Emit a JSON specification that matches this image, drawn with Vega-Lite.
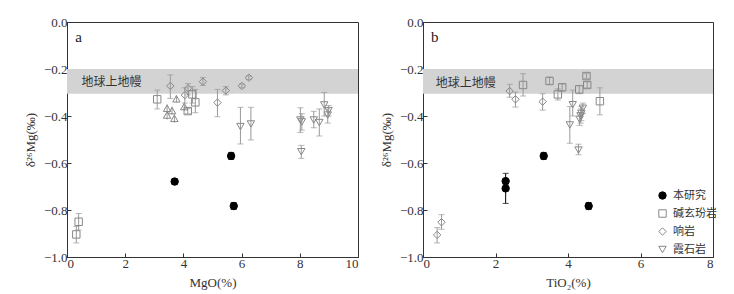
{
  "$schema": "https://vega.github.io/schema/vega-lite/v6.json",
  "padding": {"left": 23, "top": 15, "right": 5, "bottom": 5},
  "background": "white",
  "datasets": {
    "band": [{"lo": -0.305, "hi": -0.2}],
    "labA": [{"x": 0.5, "y": -0.254, "s": "地球上地幔", "p": "a", "px": 0.28, "py": -0.065}],
    "labB": [{"x": 0.35, "y": -0.26, "s": "地球上地幔", "p": "b", "px": 0.22, "py": -0.065}],
    "a": [
      {"x": 3.70, "y": -0.679, "lo": -0.691, "hi": -0.667, "t": "本研究"},
      {"x": 5.64, "y": -0.570, "lo": -0.585, "hi": -0.555, "t": "本研究"},
      {"x": 5.73, "y": -0.783, "lo": -0.798, "hi": -0.768, "t": "本研究"},
      {"x": 0.40, "y": -0.850, "lo": -0.885, "hi": -0.815, "t": "碱玄玢岩"},
      {"x": 0.32, "y": -0.904, "lo": -0.940, "hi": -0.870, "t": "碱玄玢岩"},
      {"x": 3.10, "y": -0.329, "lo": -0.370, "hi": -0.290, "t": "碱玄玢岩"},
      {"x": 4.41, "y": -0.342, "lo": -0.386, "hi": -0.287, "t": "碱玄玢岩"},
      {"x": 4.15, "y": -0.379, "lo": -0.390, "hi": -0.368, "t": "碱玄玢岩"},
      {"x": 4.31, "y": -0.308, "lo": -0.345, "hi": -0.275, "t": "碱玄玢岩"},
      {"x": 3.55, "y": -0.272, "lo": -0.325, "hi": -0.225, "t": "响岩"},
      {"x": 4.05, "y": -0.311, "lo": -0.345, "hi": -0.280, "t": "响岩"},
      {"x": 4.16, "y": -0.282, "lo": -0.310, "hi": -0.262, "t": "响岩"},
      {"x": 4.67, "y": -0.254, "lo": -0.270, "hi": -0.236, "t": "响岩"},
      {"x": 5.17, "y": -0.343, "lo": -0.403, "hi": -0.287, "t": "响岩"},
      {"x": 5.46, "y": -0.292, "lo": -0.310, "hi": -0.275, "t": "响岩"},
      {"x": 6.01, "y": -0.272, "lo": -0.280, "hi": -0.264, "t": "响岩"},
      {"x": 6.25, "y": -0.237, "lo": -0.245, "hi": -0.229, "t": "响岩"},
      {"x": 5.96, "y": -0.445, "lo": -0.519, "hi": -0.363, "t": "霞石岩"},
      {"x": 6.32, "y": -0.434, "lo": -0.502, "hi": -0.363, "t": "霞石岩"},
      {"x": 8.02, "y": -0.417, "lo": -0.470, "hi": -0.365, "t": "霞石岩"},
      {"x": 8.07, "y": -0.425, "lo": -0.460, "hi": -0.390, "t": "霞石岩"},
      {"x": 8.05, "y": -0.552, "lo": -0.580, "hi": -0.525, "t": "霞石岩"},
      {"x": 8.48, "y": -0.417, "lo": -0.450, "hi": -0.380, "t": "霞石岩"},
      {"x": 8.67, "y": -0.428, "lo": -0.485, "hi": -0.370, "t": "霞石岩"},
      {"x": 8.84, "y": -0.353, "lo": -0.400, "hi": -0.300, "t": "霞石岩"},
      {"x": 8.99, "y": -0.377, "lo": -0.400, "hi": -0.355, "t": "霞石岩"},
      {"x": 8.96, "y": -0.396, "lo": -0.430, "hi": -0.370, "t": "霞石岩"}
    ],
    "aup": [
      {"x": 3.44, "y": -0.367, "lo": -0.385, "hi": -0.350},
      {"x": 3.61, "y": -0.377, "lo": -0.395, "hi": -0.360},
      {"x": 3.44, "y": -0.396, "lo": -0.415, "hi": -0.378},
      {"x": 3.69, "y": -0.410, "lo": -0.428, "hi": -0.392},
      {"x": 3.76, "y": -0.327, "lo": -0.342, "hi": -0.312},
      {"x": 4.03, "y": -0.360, "lo": -0.378, "hi": -0.342}
    ],
    "b": [
      {"x": 2.28, "y": -0.677, "lo": -0.705, "hi": -0.644, "t": "本研究"},
      {"x": 2.28, "y": -0.708, "lo": -0.772, "hi": -0.690, "t": "本研究"},
      {"x": 3.33, "y": -0.570, "lo": -0.585, "hi": -0.555, "t": "本研究"},
      {"x": 4.57, "y": -0.783, "lo": -0.798, "hi": -0.768, "t": "本研究"},
      {"x": 2.76, "y": -0.268, "lo": -0.315, "hi": -0.220, "t": "碱玄玢岩"},
      {"x": 3.49, "y": -0.251, "lo": -0.265, "hi": -0.235, "t": "碱玄玢岩"},
      {"x": 3.84, "y": -0.278, "lo": -0.292, "hi": -0.264, "t": "碱玄玢岩"},
      {"x": 3.72, "y": -0.308, "lo": -0.332, "hi": -0.284, "t": "碱玄玢岩"},
      {"x": 4.31, "y": -0.287, "lo": -0.305, "hi": -0.270, "t": "碱玄玢岩"},
      {"x": 4.51, "y": -0.230, "lo": -0.240, "hi": -0.220, "t": "碱玄玢岩"},
      {"x": 4.53, "y": -0.268, "lo": -0.280, "hi": -0.255, "t": "碱玄玢岩"},
      {"x": 4.88, "y": -0.337, "lo": -0.395, "hi": -0.280, "t": "碱玄玢岩"},
      {"x": 0.51, "y": -0.852, "lo": -0.882, "hi": -0.820, "t": "响岩"},
      {"x": 0.39, "y": -0.906, "lo": -0.940, "hi": -0.875, "t": "响岩"},
      {"x": 2.39, "y": -0.294, "lo": -0.320, "hi": -0.265, "t": "响岩"},
      {"x": 2.55, "y": -0.329, "lo": -0.362, "hi": -0.298, "t": "响岩"},
      {"x": 3.30, "y": -0.339, "lo": -0.375, "hi": -0.305, "t": "响岩"},
      {"x": 4.13, "y": -0.352, "lo": -0.400, "hi": -0.290, "t": "霞石岩"},
      {"x": 4.05, "y": -0.438, "lo": -0.516, "hi": -0.360, "t": "霞石岩"},
      {"x": 4.41, "y": -0.367, "lo": -0.390, "hi": -0.345, "t": "霞石岩"},
      {"x": 4.37, "y": -0.389, "lo": -0.420, "hi": -0.360, "t": "霞石岩"},
      {"x": 4.32, "y": -0.414, "lo": -0.440, "hi": -0.385, "t": "霞石岩"},
      {"x": 4.35, "y": -0.400, "lo": -0.430, "hi": -0.370, "t": "霞石岩"},
      {"x": 4.29, "y": -0.545, "lo": -0.565, "hi": -0.520, "t": "霞石岩"}
    ]
  },
  "spacing": 20,
  "hconcat": [
    {
      "width": 291,
      "height": 235,
      "layer": [
        {
          "data": {"name": "band"},
          "mark": {"type": "rect", "color": "#d3d3d3"},
          "encoding": {
            "y": {"field": "hi", "type": "quantitative", "scale": {"domain": [-1, 0], "nice": false, "zero": false},
              "axis": {"title": "δ²⁶Mg(‰)", "values": [-1, -0.8, -0.6, -0.4, -0.2, 0], "format": ".1f"}},
            "y2": {"field": "lo"}
          }
        },
        {
          "data": {"name": "labA"},
          "mark": {"type": "text", "align": "left", "baseline": "middle", "font": "Noto Sans CJK SC", "fontSize": 12, "color": "#333"},
          "encoding": {
            "x": {"field": "x", "type": "quantitative"},
            "y": {"field": "y", "type": "quantitative"},
            "text": {"field": "s"}
          }
        },
        {
          "data": {"name": "labA"},
          "mark": {"type": "text", "align": "left", "baseline": "middle", "font": "Liberation Serif", "fontSize": 15, "color": "#222"},
          "encoding": {
            "x": {"field": "px", "type": "quantitative"},
            "y": {"field": "py", "type": "quantitative"},
            "text": {"field": "p"}
          }
        },
        {
          "data": {"name": "a"},
          "mark": {"type": "rule", "strokeWidth": 1},
          "encoding": {
            "x": {"field": "x", "type": "quantitative", "scale": {"domain": [0, 10], "nice": false},
              "axis": {"title": "MgO(%)", "values": [0, 2, 4, 6, 8, 10], "format": "d"}},
            "y": {"field": "lo", "type": "quantitative"},
            "y2": {"field": "hi"},
            "color": {"condition": {"test": "datum.t === '本研究'", "value": "#000000"}, "value": "#999999"}
          }
        },
        {
          "data": {"name": "a"},
          "mark": {"type": "tick", "orient": "horizontal", "size": 6, "thickness": 1},
          "encoding": {
            "x": {"field": "x", "type": "quantitative"},
            "y": {"field": "lo", "type": "quantitative"},
            "color": {"condition": {"test": "datum.t === '本研究'", "value": "#000000"}, "value": "#999999"}
          }
        },
        {
          "data": {"name": "a"},
          "mark": {"type": "tick", "orient": "horizontal", "size": 6, "thickness": 1},
          "encoding": {
            "x": {"field": "x", "type": "quantitative"},
            "y": {"field": "hi", "type": "quantitative"},
            "color": {"condition": {"test": "datum.t === '本研究'", "value": "#000000"}, "value": "#999999"}
          }
        },
        {
          "data": {"name": "aup"},
          "mark": {"type": "rule", "strokeWidth": 1, "color": "#999999"},
          "encoding": {
            "x": {"field": "x", "type": "quantitative"},
            "y": {"field": "lo", "type": "quantitative"},
            "y2": {"field": "hi"}
          }
        },
        {
          "data": {"name": "aup"},
          "mark": {"type": "point", "shape": "triangle-up", "filled": false, "size": 55, "strokeWidth": 1, "color": "#888888", "opacity": 1},
          "encoding": {
            "x": {"field": "x", "type": "quantitative"},
            "y": {"field": "y", "type": "quantitative"}
          }
        },
        {
          "data": {"name": "a"},
          "mark": {"type": "point", "filled": true, "size": 55, "strokeWidth": 1, "opacity": 1},
          "encoding": {
            "x": {"field": "x", "type": "quantitative"},
            "y": {"field": "y", "type": "quantitative"},
            "shape": {"field": "t", "type": "nominal", "scale": {"domain": ["本研究", "碱玄玢岩", "响岩", "霞石岩"], "range": ["circle", "square", "diamond", "triangle-down"]}, "legend": null},
            "fill": {"field": "t", "type": "nominal", "scale": {"domain": ["本研究", "碱玄玢岩", "响岩", "霞石岩"], "range": ["#000000", "transparent", "transparent", "transparent"]}, "legend": null},
            "stroke": {"field": "t", "type": "nominal", "scale": {"domain": ["本研究", "碱玄玢岩", "响岩", "霞石岩"], "range": ["#000000", "#888888", "#888888", "#888888"]}, "legend": null}
          }
        }
      ]
    },
    {
      "width": 290,
      "height": 235,
      "layer": [
        {
          "data": {"name": "band"},
          "mark": {"type": "rect", "color": "#d3d3d3"},
          "encoding": {
            "y": {"field": "hi", "type": "quantitative", "scale": {"domain": [-1, 0], "nice": false, "zero": false},
              "axis": {"title": "δ²⁶Mg(‰)", "values": [-1, -0.8, -0.6, -0.4, -0.2, 0], "format": ".1f"}},
            "y2": {"field": "lo"}
          }
        },
        {
          "data": {"name": "labB"},
          "mark": {"type": "text", "align": "left", "baseline": "middle", "font": "Noto Sans CJK SC", "fontSize": 12, "color": "#333"},
          "encoding": {
            "x": {"field": "x", "type": "quantitative"},
            "y": {"field": "y", "type": "quantitative"},
            "text": {"field": "s"}
          }
        },
        {
          "data": {"name": "labB"},
          "mark": {"type": "text", "align": "left", "baseline": "middle", "font": "Liberation Serif", "fontSize": 15, "color": "#222"},
          "encoding": {
            "x": {"field": "px", "type": "quantitative"},
            "y": {"field": "py", "type": "quantitative"},
            "text": {"field": "p"}
          }
        },
        {
          "data": {"name": "b"},
          "mark": {"type": "rule", "strokeWidth": 1},
          "encoding": {
            "x": {"field": "x", "type": "quantitative", "scale": {"domain": [0, 8], "nice": false},
              "axis": {"title": "TiO₂(%)", "values": [0, 2, 4, 6, 8], "format": "d"}},
            "y": {"field": "lo", "type": "quantitative"},
            "y2": {"field": "hi"},
            "color": {"condition": {"test": "datum.t === '本研究'", "value": "#000000"}, "value": "#999999"}
          }
        },
        {
          "data": {"name": "b"},
          "mark": {"type": "tick", "orient": "horizontal", "size": 6, "thickness": 1},
          "encoding": {
            "x": {"field": "x", "type": "quantitative"},
            "y": {"field": "lo", "type": "quantitative"},
            "color": {"condition": {"test": "datum.t === '本研究'", "value": "#000000"}, "value": "#999999"}
          }
        },
        {
          "data": {"name": "b"},
          "mark": {"type": "tick", "orient": "horizontal", "size": 6, "thickness": 1},
          "encoding": {
            "x": {"field": "x", "type": "quantitative"},
            "y": {"field": "hi", "type": "quantitative"},
            "color": {"condition": {"test": "datum.t === '本研究'", "value": "#000000"}, "value": "#999999"}
          }
        },
        {
          "data": {"name": "b"},
          "mark": {"type": "point", "filled": true, "size": 55, "strokeWidth": 1, "opacity": 1},
          "encoding": {
            "x": {"field": "x", "type": "quantitative"},
            "y": {"field": "y", "type": "quantitative"},
            "shape": {"field": "t", "type": "nominal", "scale": {"domain": ["本研究", "碱玄玢岩", "响岩", "霞石岩"], "range": ["circle", "square", "diamond", "triangle-down"]},
              "legend": {"title": null, "orient": "none", "legendX": 234, "legendY": 168}},
            "fill": {"field": "t", "type": "nominal", "scale": {"domain": ["本研究", "碱玄玢岩", "响岩", "霞石岩"], "range": ["#000000", "transparent", "transparent", "transparent"]},
              "legend": {"title": null, "orient": "none", "legendX": 234, "legendY": 168}},
            "stroke": {"field": "t", "type": "nominal", "scale": {"domain": ["本研究", "碱玄玢岩", "响岩", "霞石岩"], "range": ["#000000", "#888888", "#888888", "#888888"]},
              "legend": {"title": null, "orient": "none", "legendX": 234, "legendY": 168}}
          }
        }
      ]
    }
  ],
  "resolve": {
    "scale": {"shape": "independent", "fill": "independent", "stroke": "independent", "color": "independent"},
    "legend": {"shape": "independent", "fill": "independent", "stroke": "independent", "color": "independent"}
  },
  "config": {
    "view": {"stroke": "#333", "strokeWidth": 1},
    "legend": {"padding": 0, "rowPadding": 5, "symbolSize": 55, "labelFont": "Noto Sans CJK SC", "labelFontSize": 11, "labelColor": "#333", "labelOffset": 5, "symbolStrokeWidth": 1},
    "axis": {
      "grid": false,
      "domainColor": "#333",
      "domainWidth": 1,
      "tickColor": "#333",
      "tickSize": -4,
      "labelFont": "Liberation Serif",
      "labelFontSize": 13,
      "labelColor": "#333",
      "labelPadding": 4,
      "titleFont": "Liberation Serif",
      "titleFontSize": 13,
      "titleFontWeight": "normal",
      "titleColor": "#333"
    },
    "axisY": {"titlePadding": 6},
    "axisX": {"titlePadding": 6}
  }
}
